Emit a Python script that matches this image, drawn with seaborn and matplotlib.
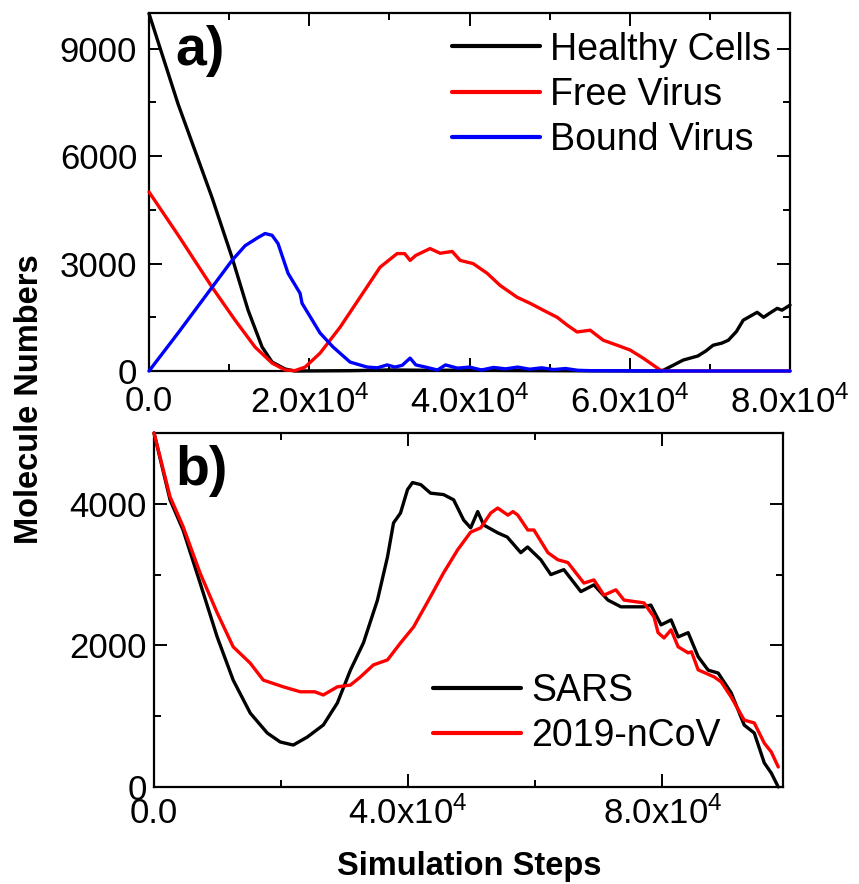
import numpy as np
import pandas as pd
import seaborn as sns
import matplotlib
matplotlib.use("Agg")
import matplotlib.pyplot as plt
from matplotlib.ticker import MultipleLocator, FixedLocator

# ---------------- data: panel a) ----------------
healthy_x = [0, 3620, 7870, 10360, 12360, 14110, 15360, 17000, 18200, 25000, 30000, 35000,
             40000, 45000, 50000, 55000, 64000, 65500, 66670, 68500, 69500, 70400, 71500,
             72300, 73300, 74160, 75900, 76700, 77500, 78400, 79000, 80000]
healthy_y = [9980, 7460, 4840, 3170, 1700, 670, 250, 55, 0, 10, 30, 20,
             25, 15, 10, 5, 0, 170, 306, 420, 560, 720, 780,
             860, 1100, 1420, 1640, 1500, 1620, 1750, 1700, 1840]

free_x = [0, 3620, 7870, 10740, 13230, 15360, 17000, 18200, 19480, 21350, 23850, 26340,
          28840, 30960, 31900, 32580, 33300, 35080, 36330, 37830, 38830, 40450, 42200,
          43820, 45940, 47570, 49190, 50940, 52200, 53430, 55060, 56680, 58430, 60050,
          61670, 63800, 64500, 80000]
free_y = [5000, 3800, 2340, 1420, 670, 220, 28, 10, 110, 500, 1225, 2060,
          2900, 3280, 3280, 3090, 3230, 3420, 3290, 3340, 3090, 3000, 2730,
          2390, 2060, 1890, 1700, 1500, 1280, 1090, 1140, 860, 720, 585,
          360, 28, 0, 0]

bound_x = [0, 3620, 7870, 10360, 11990, 13610, 14480, 15360, 16100, 17350, 18850, 19100,
           21350, 22970, 25090, 27220, 28500, 29710, 30700, 31600, 32580, 33300, 34500,
           36000, 37000, 38500, 40000, 41500, 43000, 44500, 46000, 47500, 49000, 50500,
           52000, 53500, 55000, 60000, 65000, 80000]
bound_y = [0, 1060, 2340, 3090, 3500, 3730, 3840, 3790, 3560, 2730, 2170, 1890,
           1060, 670, 250, 110, 90, 170, 110, 160, 360, 170, 110,
           28, 170, 80, 110, 28, 100, 60, 110, 50, 90, 40, 70, 20, 10, 5, 0, 0]

# ---------------- data: panel b) ----------------
sars_x = [0, 2520, 4570, 7260, 9940, 12460, 15140, 17820, 19870, 21920, 24130, 26650,
          28860, 30910, 32960, 35170, 36750, 37700, 38800, 39900, 40690, 42000, 43530,
          45580, 47160, 48740, 49840, 50950, 51900, 54100, 55600, 57730, 58800, 60880,
          62460, 64510, 67190, 69240, 71450, 73500, 77130, 78200, 79810, 81390, 82500,
          84070, 85650, 87230, 88800, 90850, 92900, 94480, 96060, 97160, 98260]
sars_y = [5000, 4056, 3630, 2880, 2120, 1510, 1045, 763, 636, 593, 706, 876,
          1187, 1650, 2035, 2640, 3250, 3730, 3870, 4200, 4300, 4270, 4150,
          4130, 4056, 3770, 3660, 3890, 3700, 3590, 3530, 3310, 3390, 3210,
          3000, 3070, 2760, 2855, 2640, 2545, 2545, 2570, 2290, 2360, 2120,
          2180, 1840, 1650, 1610, 1330, 875, 763, 340, 198, 0]

ncov_x = [0, 2520, 4570, 7260, 9940, 12460, 15140, 17200, 20350, 23030, 25300, 26650,
          28860, 30910, 32490, 34540, 36750, 38800, 40850, 43530, 45580, 47790, 49840,
          51420, 53000, 54100, 55700, 56500, 57260, 58830, 59800, 62000, 63560, 65140,
          67670, 69240, 70820, 72700, 73980, 77130, 78710, 79340, 80280, 81390, 82500,
          84070, 84600, 85650, 88170, 89270, 90850, 92900, 94480, 96060, 97160, 98260]
ncov_y = [5000, 4100, 3680, 3020, 2460, 1980, 1750, 1510, 1415, 1345, 1345, 1300,
          1415, 1440, 1555, 1725, 1795, 2035, 2260, 2690, 3025, 3350, 3600,
          3660, 3870, 3940, 3840, 3890, 3840, 3630, 3630, 3310, 3210, 3170,
          2880, 2925, 2710, 2785, 2640, 2600, 2400, 2180, 2105, 2220, 1980,
          1895, 1910, 1655, 1555, 1485, 1270, 945, 905, 620, 495, 283]

top_xticks = [0, 20000, 40000, 60000, 80000]
top_xticklabels = ["0.0", "2.0x10$^{4}$", "4.0x10$^{4}$", "6.0x10$^{4}$", "8.0x10$^{4}$"]
top_yticks = [0, 3000, 6000, 9000]
bot_xticks = [0, 40000, 80000]
bot_xticklabels = ["0.0", "4.0x10$^{4}$", "8.0x10$^{4}$"]
bot_yticks = [0, 2000, 4000]

# ---------------- style ----------------
sns.set_style("ticks")
plt.rcParams["font.family"] = ["Liberation Sans", "DejaVu Sans"]
plt.rcParams["mathtext.fontset"] = "custom"
plt.rcParams["mathtext.rm"] = "Liberation Sans"
plt.rcParams["mathtext.it"] = "Liberation Sans:italic"
plt.rcParams["mathtext.bf"] = "Liberation Sans:bold"
plt.rcParams["axes.linewidth"] = 1.6
for key in ["text.color", "axes.edgecolor", "axes.labelcolor", "xtick.color", "ytick.color"]:
    plt.rcParams[key] = "black"

fig = plt.figure(figsize=(8.59, 8.84), dpi=100)
ax1 = fig.add_axes([0.1735, 0.5803, 0.7462, 0.4050])
ax2 = fig.add_axes([0.1793, 0.1097, 0.7322, 0.4005])

LW = 2.4
def draw(ax, x, y, color, label):
    df = pd.DataFrame({"x": x, "y": y})
    sns.lineplot(data=df, x="x", y="y", ax=ax, color=color, lw=LW, label=label,
                 sort=False, estimator=None, zorder=3, clip_on=False)

draw(ax1, healthy_x, healthy_y, "black", "Healthy Cells")
draw(ax1, free_x, free_y, "#ff0000", "Free Virus")
draw(ax1, bound_x, bound_y, "#0000ff", "Bound Virus")

draw(ax2, sars_x, sars_y, "black", "SARS")
draw(ax2, ncov_x, ncov_y, "#ff0000", "2019-nCoV")

# ---- panel a axes ----
ax1.set_xlim(0, 80000)
ax1.set_ylim(0, 10000)
ax1.xaxis.set_major_locator(FixedLocator(top_xticks))
ax1.set_xticklabels(top_xticklabels)
ax1.xaxis.set_minor_locator(MultipleLocator(10000))
ax1.yaxis.set_major_locator(FixedLocator(top_yticks))
ax1.yaxis.set_minor_locator(MultipleLocator(1500))
ax1.tick_params(axis="x", which="major", pad=10)
ax1.tick_params(axis="y", which="major", pad=8.5)

# ---- panel b axes ----
ax2.set_xlim(0, 99000)
ax2.set_ylim(0, 5000)
ax2.xaxis.set_major_locator(FixedLocator(bot_xticks))
ax2.set_xticklabels(bot_xticklabels)
ax2.xaxis.set_minor_locator(MultipleLocator(20000))
ax2.yaxis.set_major_locator(FixedLocator(bot_yticks))
ax2.yaxis.set_minor_locator(MultipleLocator(1000))
ax2.tick_params(axis="x", which="major", pad=7)
ax2.tick_params(axis="y", which="major", pad=5)

for ax in (ax1, ax2):
    ax.set_xlabel("")
    ax.set_ylabel("")
    for s in ax.spines.values():
        s.set_visible(True)
        s.set_linewidth(1.6)
        s.set_edgecolor("black")
        s.set_zorder(2.5)
    ax.tick_params(which="both", direction="in", top=True, right=True,
                   labelsize=25, width=1.4, colors="black")
    ax.tick_params(which="major", length=9.5)
    ax.tick_params(which="minor", length=5)

leg1 = ax1.legend(loc="upper left", bbox_to_anchor=(0.473, 0.948), frameon=False,
                  fontsize=27, handlelength=2.35, handletextpad=0.27,
                  labelspacing=0.25, borderpad=0, borderaxespad=0)
leg2 = ax2.legend(loc="upper left", bbox_to_anchor=(0.4436, 0.322), frameon=False,
                  fontsize=27, handlelength=2.35, handletextpad=0.27,
                  labelspacing=0.25, borderpad=0, borderaxespad=0)
for leg in (leg1, leg2):
    for h in leg.get_lines():
        h.set_linewidth(3)
    for t in leg.get_texts():
        t.set_color("black")

fig.text(175 / 859, 1 - 65 / 884, "a)", fontsize=40, fontweight="bold",
         ha="left", va="baseline", color="black")
fig.text(175 / 859, 1 - 485 / 884, "b)", fontsize=40, fontweight="bold",
         ha="left", va="baseline", color="black")
fig.text(30 / 859, 1 - 399 / 884, "Molecule Numbers", fontsize=23.5, fontweight="bold",
         rotation=90, ha="center", va="center", color="black")
fig.text(469 / 859, 1 - 875 / 884, "Simulation Steps", fontsize=23.5, fontweight="bold",
         ha="center", va="baseline", color="black")

fig.savefig("out.png", dpi=100)
